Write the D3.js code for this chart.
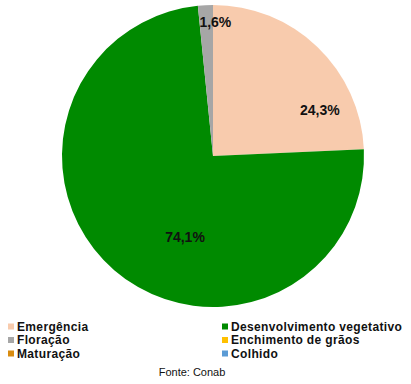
<!DOCTYPE html>
<html><head><meta charset="utf-8">
<script src="https://cdn.jsdelivr.net/npm/d3@7"></script>
<style>body{margin:0;background:#fff}svg{display:block;font-family:"Liberation Sans",Arial,sans-serif}</style>
</head><body>
<svg id="c" width="411" height="384"></svg>
<script>
const categories = ["Emergência","Desenvolvimento vegetativo","Floração","Enchimento de grãos","Maturação","Colhido"];
const values = [24.3, 74.1, 1.6, 0, 0, 0];
const labels = ["24,3%","74,1%","1,6%","","",""];
const colors = ["#F8CBAD","#008A00","#A6A6A6","#FFC000","#D98C10","#5B9BD5"];

const svg = d3.select("#c");
const cx = 213, cy = 156, R = 151;
const data = categories.map((c,i)=>({cat:c, v:values[i], lab:labels[i], col:colors[i]}));
const pie = d3.pie().value(d=>d.v).sort(null);
const arcs = pie(data);
const arc = d3.arc().innerRadius(0).outerRadius(R);
const g = svg.append("g").attr("transform",`translate(${cx},${cy})`);
g.selectAll("path").data(arcs.filter(a=>a.data.v>0)).join("path")
  .attr("d",arc).attr("fill",d=>d.data.col);
// label placement: angle shift (deg) from slice start + radius fraction
const place = [{da:66.7, r:0.77},{da:199-87.5, r:0.57},{da:1+360-(360-5.76), r:0.89}];
g.selectAll("text").data(arcs.filter(a=>a.data.v>0)).join("text")
  .attr("transform",(d,i)=>{
    const p = place[i];
    const a = d.startAngle + p.da*Math.PI/180, r = R*p.r;
    return `translate(${Math.sin(a)*r},${-Math.cos(a)*r})`;})
  .attr("text-anchor","middle").attr("dy","0.35em")
  .style("font-weight","bold").style("font-size","14px").attr("fill","#111")
  .text(d=>d.data.lab);

const leg = svg.append("g");
const colX = [8, 222], rowY = [326.5, 340, 353.5];
data.forEach((d,i)=>{
  const x = colX[i%2], y = rowY[Math.floor(i/2)];
  leg.append("rect").attr("x",x).attr("y",y-3).attr("width",6).attr("height",6).attr("fill",d.col);
  leg.append("text").attr("x",x+9).attr("y",y).attr("dy","0.35em")
    .style("font-weight","bold").style("font-size","12px").style("letter-spacing","0.35px")
    .attr("fill","#111").text(d.cat);
});
svg.append("text").attr("x",192).attr("y",376).attr("text-anchor","middle")
  .style("font-size","11px").attr("fill","#111").text("Fonte: Conab");
</script>
</body></html>
